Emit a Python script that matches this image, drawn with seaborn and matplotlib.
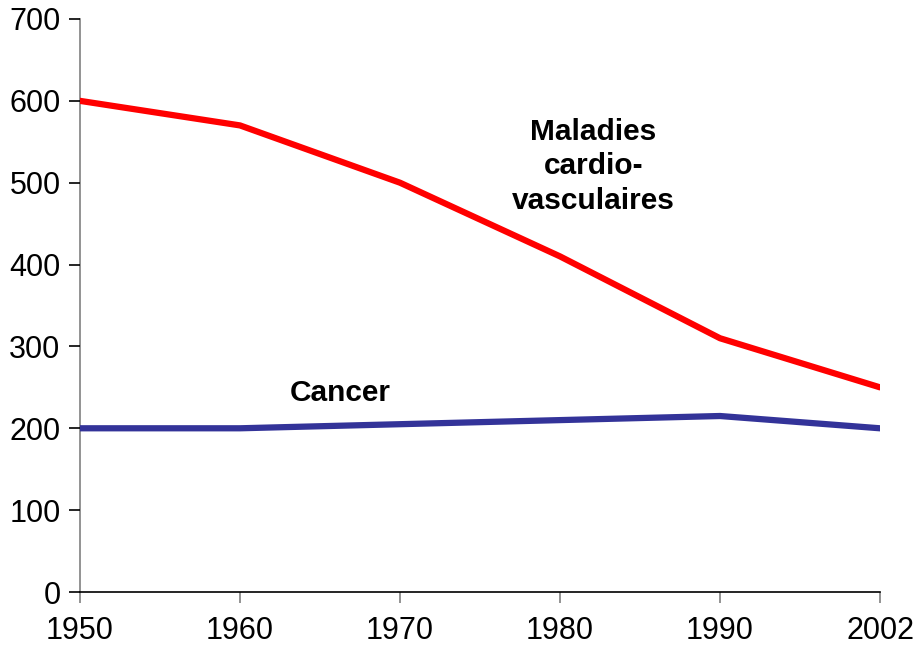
import numpy as np
import pandas as pd
import seaborn as sns
import matplotlib
matplotlib.use("Agg")
import matplotlib.pyplot as plt

annees = ["1950", "1960", "1970", "1980", "1990", "2002"]
cardio = [600, 570, 500, 410, 310, 250]
cancer = [200, 200, 205, 210, 215, 200]

df = pd.DataFrame({
    "annee": annees * 2,
    "deces": cardio + cancer,
    "cause": ["cardio"] * len(annees) + ["cancer"] * len(annees),
})

sns.set_style("white")
plt.rcParams["font.family"] = ["Liberation Sans", "DejaVu Sans"]
plt.rcParams["text.color"] = "black"
plt.rcParams["xtick.color"] = "black"
plt.rcParams["ytick.color"] = "black"

fig = plt.figure(figsize=(9.17, 6.48), dpi=100)
ax = fig.add_axes([80 / 917, 1 - 592 / 648, 800 / 917, 573 / 648])

sns.lineplot(data=df, x="annee", y="deces", hue="cause",
             palette={"cardio": "#FF0000", "cancer": "#333399"},
             linewidth=4.5, legend=False, ax=ax, solid_capstyle="round")

ax.set_xlim(0, 5)
ax.set_ylim(0, 700)
ax.set_yticks(range(0, 701, 100))
ax.set_xlabel("")
ax.set_ylabel("")

for s in ["top", "right"]:
    ax.spines[s].set_visible(False)
ax.spines["left"].set_color("#808080")
ax.spines["bottom"].set_color("#000000")
ax.spines["left"].set_linewidth(1.2)
ax.spines["bottom"].set_linewidth(1.2)
ax.spines["left"].set_zorder(0)

ax.tick_params(axis="y", length=8, width=1.2, color="#000000", labelcolor="black",
               labelsize=22, pad=6, left=True)
ax.tick_params(axis="x", length=8, width=1.2, color="#808080", labelcolor="black",
               labelsize=22, pad=9, bottom=True)

ax.text(3.21, 520, "Maladies\ncardio-\nvasculaires", ha="center", va="center",
        fontsize=21.5, fontweight="bold", linespacing=1.3, color="black")
ax.text(1.625, 243, "Cancer", ha="center", va="center", fontsize=21.5,
        fontweight="bold", color="black")

fig.savefig("out.png", dpi=100)
